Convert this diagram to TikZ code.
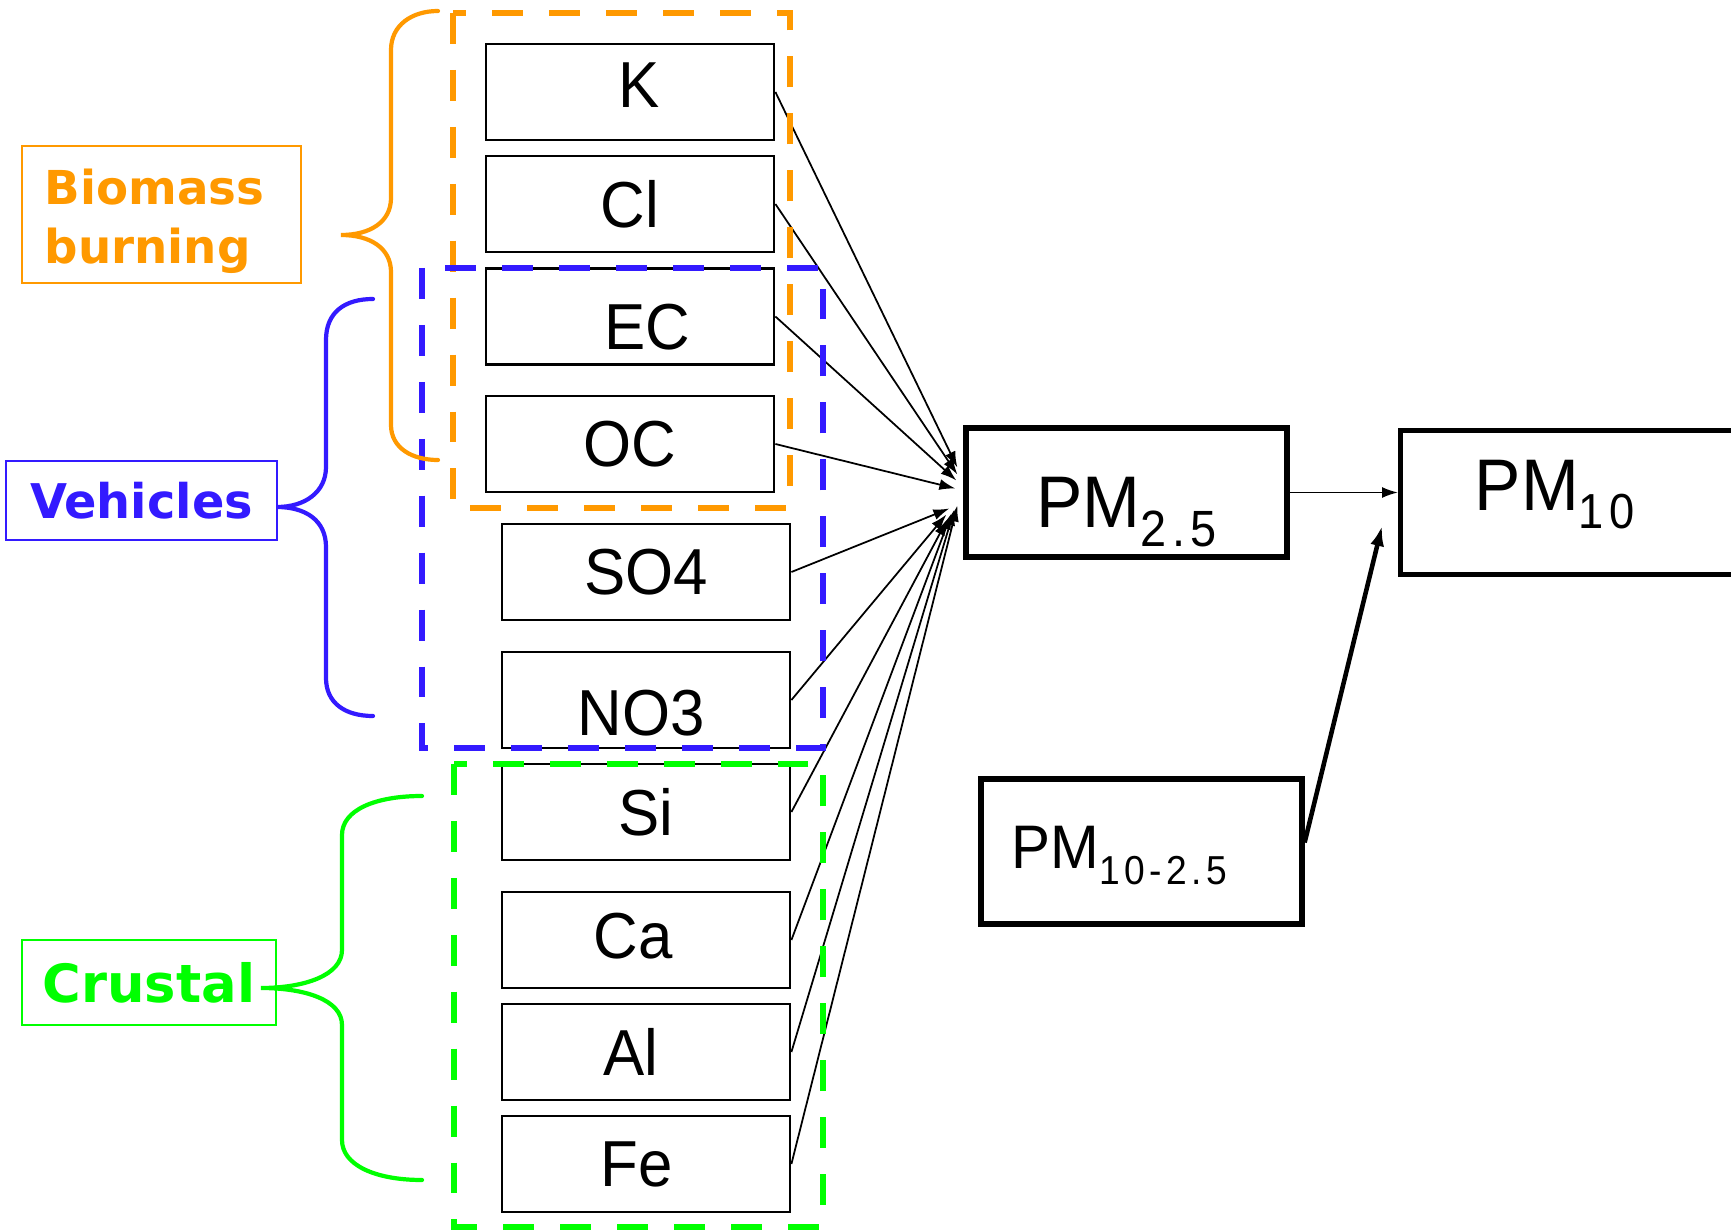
\documentclass[tikz,border=0pt]{standalone}
\usepackage{fontspec}
\usepackage{tikz}
\usetikzlibrary{arrows.meta}
\usepackage{xcolor}

\newfontfamily\elfont[FakeStretch=0.95]{Liberation Sans}
\newfontfamily\subfont[FakeStretch=0.92, LetterSpace=11]{Liberation Sans}
\newfontfamily\grpfont{DejaVu Sans}

\definecolor{orangec}{RGB}{255,153,0}
\definecolor{bluec}{RGB}{51,26,255}
\definecolor{greenc}{RGB}{0,255,0}

% lowered, spaced subscript
\newcommand{\pmsub}[3]{\raisebox{#1}{\subfont\fontsize{#2}{#2}\selectfont #3}}
% move a box text by (dx, dy) without changing its size
\newcommand{\nudge}[3]{\hspace*{#1}\raisebox{#2}[\height][\depth]{#3}\hspace*{-#1}}

\begin{document}
\begin{tikzpicture}

        % 1. Page limits
        \useasboundingbox (0,0) rectangle (17.31,-12.30);
        \clip (0,0) rectangle (17.31,-12.30);

        \tikzset{elbox/.style={draw, line width=0.8pt, minimum width=2.88cm, minimum height=0.96cm, inner sep=0pt, font=\elfont\fontsize{18.5pt}{20pt}\selectfont}}
        \tikzset{pmbox/.style={draw, line width=1.5pt, minimum width=3.21cm, inner sep=0pt, text depth=0pt, font=\elfont\fontsize{20.8pt}{22pt}\selectfont}}
        \tikzset{grplabel/.style={draw, line width=0.5pt, inner sep=0pt, font=\grpfont\bfseries\fontsize{13.3pt}{16.6pt}\selectfont}}
        \tikzset{groupframe/.style={line width=1.6pt, dash pattern=on 8.8pt off 7.4pt}}
        \tikzset{brace/.style={line width=1.2pt, line cap=round}}
        \tikzset{feed/.style={line width=0.5pt, -{Latex[length=1.6mm, width=1.1mm]}}}

        % 2. Element boxes
        \node[elbox] (k)   at (6.30, -0.92)  {\nudge{0.09cm}{0.07cm}{K}};
        \node[elbox] (cl)  at (6.30, -2.04)  {Cl};
        \node[elbox] (ec)  at (6.30, -3.165) {\nudge{0.17cm}{-0.11cm}{EC}};
        \node[elbox] (oc)  at (6.30, -4.44)  {OC};
        \node[elbox] (so4) at (6.46, -5.72)  {SO4};
        \node[elbox] (no3) at (6.46, -7.00)  {\nudge{-0.05cm}{-0.13cm}{NO3}};
        \node[elbox] (si)  at (6.46, -8.12)  {Si};
        \node[elbox] (ca)  at (6.46, -9.40)  {\nudge{-0.13cm}{0.04cm}{Ca}};
        \node[elbox] (al)  at (6.46, -10.52) {\nudge{-0.15cm}{0cm}{Al}};
        \node[elbox] (fe)  at (6.46, -11.64) {\nudge{-0.09cm}{0cm}{Fe}};

        % 3. PM boxes
        \node[pmbox, minimum height=1.29cm, text height=0.70cm] (pm25) at (11.265, -4.925) {PM\pmsub{-5.5pt}{14.5pt}{2.5}};
        \node[pmbox, minimum width=3.60cm, minimum height=1.44cm, anchor=north west] (pm10) at (13.98, -4.28) {};
        \node[font=\elfont\fontsize{20.8pt}{22pt}\selectfont, anchor=base west, inner sep=0pt] (pm10lbl) at (14.74, -5.11) {PM\pmsub{-5pt}{14pt}{10}};
        \node[pmbox, minimum height=1.45cm, text height=0.34cm, font=\elfont\fontsize{17.5pt}{19pt}\selectfont] (pm1025) at (11.415, -8.515) {PM\pmsub{-4.5pt}{11.5pt}{10-2.5}\hspace*{0.44cm}};

        % 4. Arrows into PM2.5
        \foreach \el/\dx/\dy in {k/-0.06/0.25, cl/-0.06/0.18, ec/-0.07/0.12, oc/-0.08/0.04, so4/-0.14/-0.16, no3/-0.17/-0.22, si/-0.16/-0.27, ca/-0.12/-0.21, al/-0.09/-0.17, fe/-0.06/-0.13}
            \draw[feed] (\el.east) -- ([xshift=\dx cm, yshift=\dy cm]pm25.west);

        % PM2.5 and PM10-2.5 make PM10
        \coordinate (pm10in) at (13.82, -5.26);
        \draw[feed] (pm25.east) -- (pm25.east -| pm10.west);
        \draw[line width=1.3pt, -{Latex[length=2mm, width=1.4mm]}] ([yshift=0.09cm]pm1025.east) -- (pm10in);

        % 5. Source groups (dashed frames)
        \draw[groupframe, orangec] (4.53, -0.13) rectangle (7.90, -5.08);
        \draw[groupframe, bluec]   (4.22, -2.68) rectangle (8.23, -7.48);
        \draw[groupframe, greenc]  (4.54, -7.64) rectangle (8.23, -12.27);

        % 6. Source labels and braces
        \node[grplabel, draw=orangec, text=orangec, minimum width=2.79cm, minimum height=1.37cm] (biomass) at (1.615, -2.145)
            {\nudge{-0.07cm}{-0.08cm}{\begin{tabular}{@{}l@{}}Biomass\\burning\end{tabular}}};
        \node[grplabel, draw=bluec, text=bluec, minimum width=2.71cm, minimum height=0.79cm, font=\grpfont\bfseries\fontsize{13.6pt}{16pt}\selectfont] (vehicles) at (1.415, -5.005) {Vehicles};
        \node[grplabel, draw=greenc, text=greenc, minimum width=2.54cm, minimum height=0.85cm, font=\grpfont\bfseries\fontsize{15pt}{17pt}\selectfont] (crustal) at (1.49, -9.825) {Crustal};

        \draw[brace, orangec] (4.38,-0.11) .. controls (4.12,-0.11) and (3.91,-0.25) .. (3.91,-0.50) -- (3.91,-1.98)
            .. controls (3.91,-2.22) and (3.70,-2.35) .. (3.41,-2.35)
            .. controls (3.70,-2.35) and (3.91,-2.48) .. (3.91,-2.72) -- (3.91,-4.25)
            .. controls (3.91,-4.48) and (4.12,-4.60) .. (4.38,-4.60);
        \draw[brace, bluec] (3.73,-2.99) .. controls (3.45,-2.99) and (3.26,-3.12) .. (3.26,-3.40) -- (3.26,-4.67)
            .. controls (3.26,-4.92) and (3.05,-5.07) .. (2.77,-5.07)
            .. controls (3.05,-5.07) and (3.26,-5.20) .. (3.26,-5.47) -- (3.26,-6.78)
            .. controls (3.26,-7.03) and (3.45,-7.16) .. (3.73,-7.16);
        \draw[brace, greenc] (4.22,-7.96) .. controls (3.75,-7.96) and (3.42,-8.10) .. (3.42,-8.35) -- (3.42,-9.50)
            .. controls (3.42,-9.75) and (3.05,-9.88) .. (2.61,-9.88)
            .. controls (3.05,-9.88) and (3.42,-10.00) .. (3.42,-10.25) -- (3.42,-11.40)
            .. controls (3.42,-11.65) and (3.75,-11.80) .. (4.22,-11.80);

\end{tikzpicture}
\end{document}
